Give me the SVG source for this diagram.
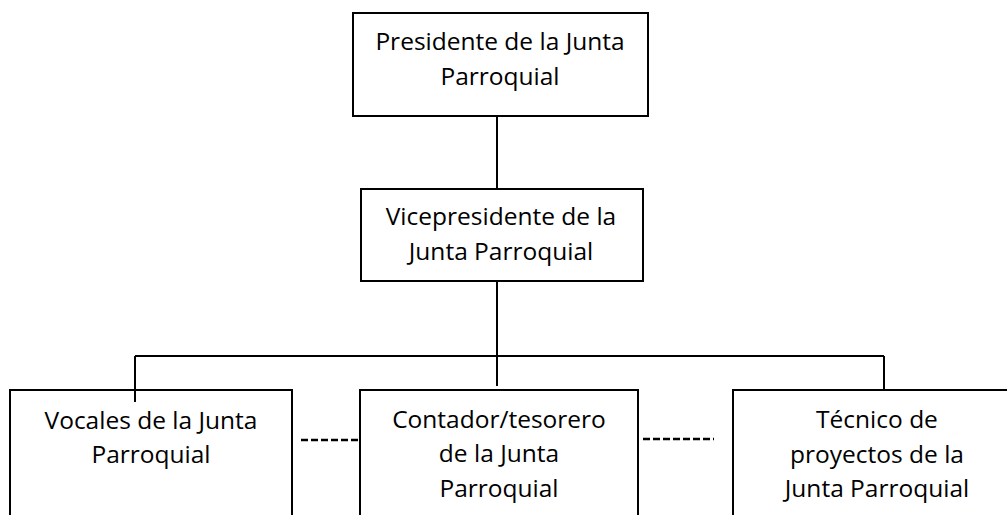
<svg xmlns="http://www.w3.org/2000/svg" width="1007" height="515" viewBox="0 0 1007 515">
<style>
.box{fill:#fff;stroke:#000;stroke-width:2}
.ln{stroke:#000;stroke-width:2;fill:none}
.dash{stroke:#000;stroke-width:2.5;fill:none;stroke-dasharray:7 3}
text{font-family:"Open Sans","Noto Sans",sans-serif;font-size:24.5px;fill:#000;text-anchor:middle}
</style>
<rect width="1007" height="515" fill="#fff"/>
<g id="connectors">
<line class="ln" x1="497" y1="116" x2="497" y2="189"/>
<line class="ln" x1="497" y1="281" x2="497" y2="386"/>
<line class="ln" x1="135" y1="356" x2="884" y2="356"/>
<line class="ln" x1="135" y1="356" x2="135" y2="402"/>
<line class="ln" x1="884" y1="356" x2="884" y2="390"/>
<line class="dash" x1="301" y1="440" x2="360" y2="440"/>
<line class="dash" x1="643" y1="439" x2="714" y2="439"/>
</g>
<g id="presidente">
<rect class="box" x="353" y="13" width="295" height="103"/>
<text x="500" y="50">Presidente de la Junta</text>
<text x="500" y="85">Parroquial</text>
</g>
<g id="vicepresidente">
<rect class="box" x="361" y="189" width="282" height="92"/>
<text x="501" y="225">Vicepresidente de la</text>
<text x="501" y="260">Junta Parroquial</text>
</g>
<g id="vocales">
<rect class="box" x="10" y="390" width="282" height="140"/>
<text x="151" y="429">Vocales de la Junta</text>
<text x="151" y="463">Parroquial</text>
</g>
<g id="contador">
<rect class="box" x="360" y="390" width="278" height="140"/>
<text x="499" y="428">Contador/tesorero</text>
<text x="499" y="462">de la Junta</text>
<text x="499" y="497">Parroquial</text>
</g>
<line class="ln" x1="497" y1="356" x2="497" y2="386"/>
<g id="tecnico">
<rect class="box" x="733" y="390" width="290" height="140"/>
<text x="877" y="428">Técnico de</text>
<text x="877" y="463">proyectos de la</text>
<text x="877" y="497">Junta Parroquial</text>
</g>
<line class="ln" x1="135" y1="390" x2="135" y2="402"/>
</svg>
